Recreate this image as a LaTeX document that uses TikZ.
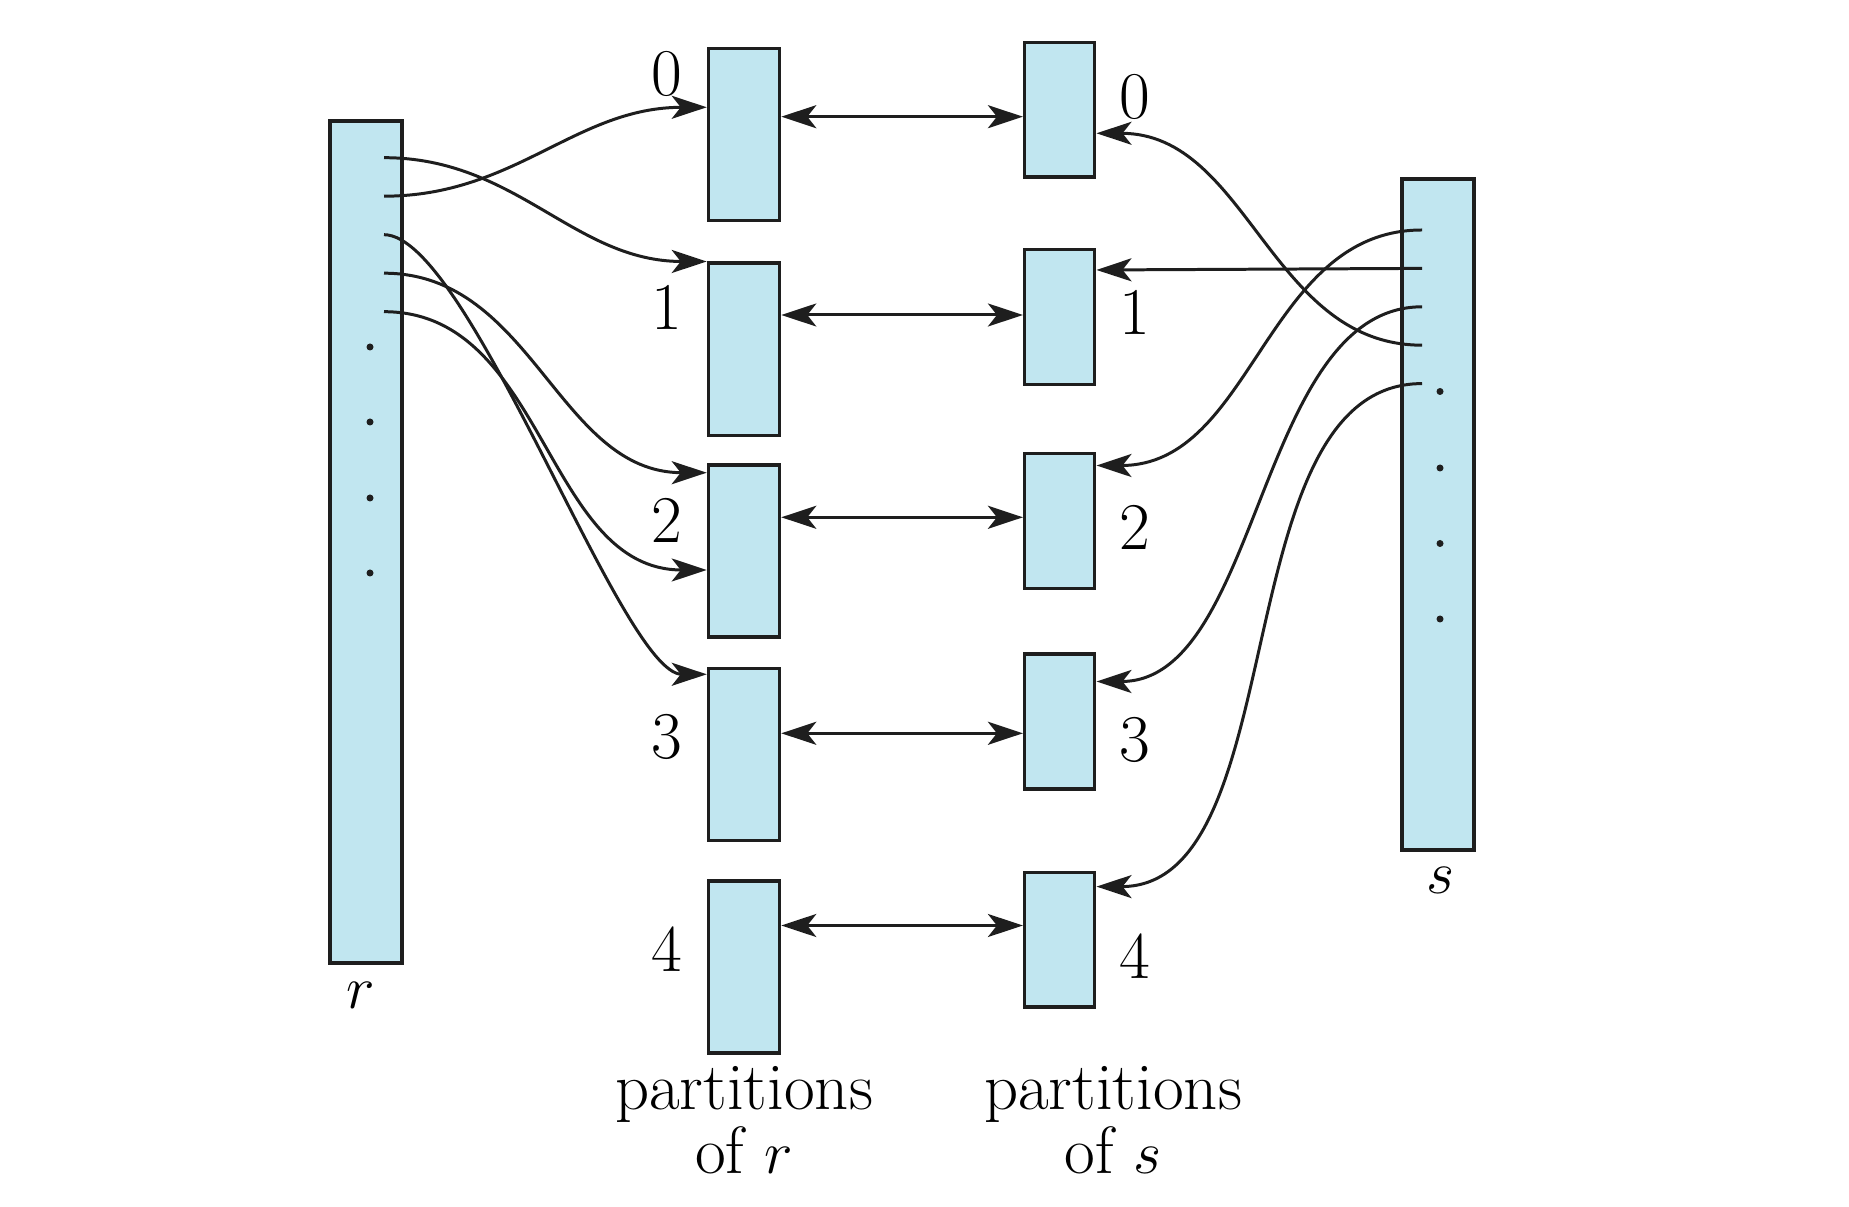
\documentclass[tikz,border=0pt]{standalone}
\usepackage{xcolor}
\usepackage{tikz}
\usetikzlibrary{arrows.meta, positioning, calc}
\definecolor{partblue}{RGB}{193, 230, 240}
\definecolor{edgegray}{RGB}{30, 30, 30}

\begin{document}
\begin{tikzpicture}[x=0.01cm, y=-0.01cm,
    font=\fontsize{19}{17}\selectfont,
    box/.style={draw=edgegray, fill=partblue, line width=1pt, inner sep=0pt},
    relbox/.style={box, minimum width=0.72cm},
    rpart/.style={box, minimum width=0.71cm, minimum height=1.72cm},
    spart/.style={box, minimum width=0.70cm, minimum height=1.345cm},
    link/.style={-{Stealth[length=3.5mm, width=2.3mm, inset=0.9mm]}, line width=0.85pt, edgegray},
    pair/.style={{Stealth[length=3.5mm, width=2.3mm, inset=0.9mm]}-{Stealth[length=3.5mm, width=2.3mm, inset=0.9mm]}, line width=0.85pt, edgegray},
    dot/.style={fill=edgegray}
]
    \useasboundingbox (0,0) rectangle (1849,1207);

    % Relations r and s
    \node[relbox, minimum height=8.42cm] (r) at (366,542) {};
    \node[relbox, minimum height=6.71cm] (s) at (1438,514.5) {};
    \node (rname) at (361,995) {$r$};
    \node (sname) at (1440,880) {$s$};

    % Dots inside the relations
    \foreach \y in {347,422,498,573} {
        \fill[dot] (370,\y) circle (3.5);
    }
    \foreach \y in {391.5,468,543.5,619} {
        \fill[dot] (1440,\y) circle (3.5);
    }

    % Partitions of r and of s
    \foreach \i/\y in {0/134.5,1/349.3,2/551,3/754.5,4/966.8} {
        \node[rpart] (r\i) at (744,\y) {};
    }
    \foreach \i/\y in {0/109.6,1/317,2/521,3/721.5,4/939.8} {
        \node[spart] (s\i) at (1059.7,\y) {};
    }

    % Partition numbers
    \foreach \i/\y in {0/74,1/307,2/520,3/737,4/949} {
        \node (lr\i) at (667,\y) {\i};
    }
    \foreach \i/\y in {0/97,1/312,2/527,3/740,4/956} {
        \node (ls\i) at (1135,\y) {\i};
    }

    % Captions
    \node[align=center] (capr) at (744,1120) {partitions\\of $r$};
    \node[align=center] (caps) at (1113,1120) {partitions\\of $s$};

    % Tuple ticks
    \foreach \i in {1,...,5} {
        \coordinate (rt\i) at (384,{157.7+38.5*(\i-1)});
        \coordinate (st\i) at (1422,{230+38.4*(\i-1)});
    }

    % Tuples of r into partitions
    \draw[link] (rt1) to[out=0, in=180] (r1.north west);
    \draw[link] (rt2) to[out=0, in=180] (r0.west |- 0,107.3);
    \draw[link] (rt3) to[out=0, in=180, looseness=0.4] (r3.west |- 0,674.3);
    \draw[link] (rt4) to[out=0, in=180] (r2.west |- 0,472.7);
    \draw[link] (rt5) to[out=0, in=180] (r2.west |- 0,570);

    % Tuples of s into partitions
    \draw[link] (st1) to[out=180, in=0] (s2.east |- 0,465.5);
    \draw[link] (st2) -- (s1.east |- 0,270);
    \draw[link] (st3) to[out=180, in=0, looseness=0.85] (s3.east |- 0,681.5);
    \draw[link] (st4) to[out=180, in=0] (s0.east |- 0,133.3);
    \draw[link] (st5) to[out=180, in=0, looseness=0.85] (s4.east |- 0,886.6);

    % Matching partitions
    \foreach \i/\y in {0/116.7,1/315,2/517.3,3/733.3,4/925.5} {
        \draw[pair] (r\i.east |- 0,\y) -- (s\i.west |- 0,\y);
    }
\end{tikzpicture}
\end{document}
